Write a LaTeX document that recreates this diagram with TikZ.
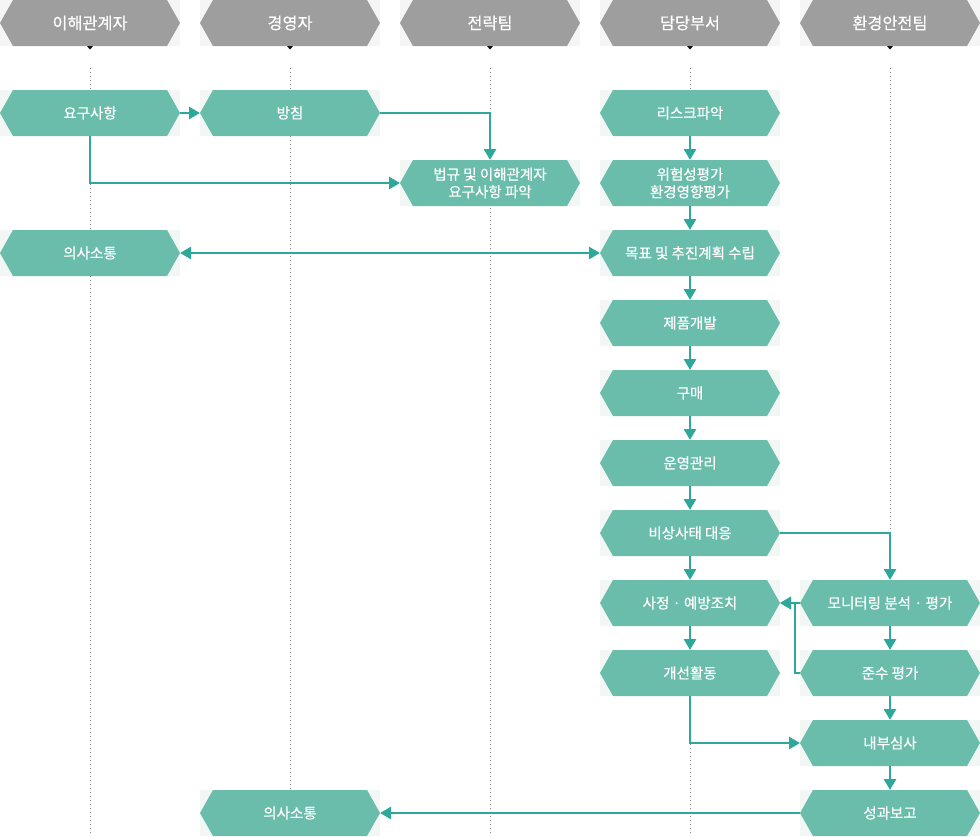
\documentclass[tikz,border=0pt]{standalone}
\usepackage{fontspec}
\setmainfont{Noto Sans CJK KR}[FakeBold=0.5]
\usetikzlibrary{arrows.meta}
\definecolor{boxteal}{HTML}{6BBDAB}
\definecolor{boxback}{HTML}{F2F7F6}
\definecolor{linkteal}{HTML}{2FA89C}
\definecolor{headgray}{HTML}{9E9E9E}
\definecolor{headback}{HTML}{F5F5F5}
\definecolor{lanegray}{HTML}{888888}
\tikzset{
  hexbase/.style={minimum width=180pt, minimum height=46pt, inner sep=0pt, outer sep=0pt,
    text=white, align=center, font=\fontsize{14.5}{17.5}\selectfont},
  hexfill/.style={path picture={
    \fill[#1] (path picture bounding box.west)
      -- ([xshift=13pt]path picture bounding box.north west)
      -- ([xshift=-13pt]path picture bounding box.north east)
      -- (path picture bounding box.east)
      -- ([xshift=-13pt]path picture bounding box.south east)
      -- ([xshift=13pt]path picture bounding box.south west) -- cycle;}},
  taskbox/.style={hexbase, fill=boxback, hexfill=boxteal},
  headbox/.style={hexbase, fill=headback, hexfill=headgray, font=\fontsize{16.3}{19}\selectfont},
  link/.style={draw=linkteal, line width=2.8pt, -{Triangle[length=11pt,width=12pt]}},
  linkboth/.style={draw=linkteal, line width=2.8pt, {Triangle[length=11pt,width=12pt]}-{Triangle[length=11pt,width=12pt]}},
  lane/.style={draw=lanegray, line width=0.8pt, dash pattern=on 1pt off 3pt},
}
\begin{document}
\begin{tikzpicture}[x=1pt,y=-1pt]
\useasboundingbox (0,0) rectangle (980,836);
% lanes
\foreach \lx in {90,290,490,690,890}{
  \draw[lane] (\lx,68) -- (\lx,836);
  \fill[black] (\lx-3,46) -- (\lx+3,46) -- (\lx,49.5) -- cycle;
}
% headers
\node[headbox] (h1) at (90,23) {이해관계자};
\node[headbox] (h2) at (290,23) {경영자};
\node[headbox] (h3) at (490,23) {전략팀};
\node[headbox] (h4) at (690,23) {담당부서};
\node[headbox] (h5) at (890,23) {환경안전팀};
% tasks
\node[taskbox] (req) at (90,113) {요구사항};
\node[taskbox] (pol) at (290,113) {방침};
\node[taskbox] (law) at (490,183) {법규 및 이해관계자\\요구사항 파악};
\node[taskbox] (risk) at (690,113) {리스크파악};
\node[taskbox] (eval) at (690,183) {위험성평가\\환경영향평가};
\node[taskbox] (comm1) at (90,253) {의사소통};
\node[taskbox] (goal) at (690,253) {목표 및 추진계획 수립};
\node[taskbox] (dev) at (690,323) {제품개발};
\node[taskbox] (buy) at (690,393) {구매};
\node[taskbox] (ops) at (690,463) {운영관리};
\node[taskbox] (emg) at (690,533) {비상사태 대응};
\node[taskbox] (act) at (690,603) {사정 · 예방조치};
\node[taskbox] (imp) at (690,673) {개선활동};
\node[taskbox] (mon) at (890,603) {모니터링 분석 · 평가};
\node[taskbox] (cmp) at (890,673) {준수 평가};
\node[taskbox] (aud) at (890,743) {내부심사};
\node[taskbox] (rep) at (890,813) {성과보고};
\node[taskbox] (comm2) at (290,813) {의사소통};
\coordinate (joinpt) at (795,673);
% connectors
\draw[link] (req.east) -- (pol.west);
\draw[link] (pol.east) -| (law.north);
\draw[link] (req.south) |- (law.west);
\draw[linkboth] (comm1.east) -- (goal.west);
\draw[link] (risk.south) -- (eval.north);
\draw[link] (eval.south) -- (goal.north);
\draw[link] (goal.south) -- (dev.north);
\draw[link] (dev.south) -- (buy.north);
\draw[link] (buy.south) -- (ops.north);
\draw[link] (ops.south) -- (emg.north);
\draw[link] (emg.south) -- (act.north);
\draw[link] (act.south) -- (imp.north);
\draw[link] (emg.east) -| (mon.north);
\draw[link] (mon.west) -- (act.east);
\draw[link] (cmp.west) -- (joinpt) |- (act.east);
\draw[link] (mon.south) -- (cmp.north);
\draw[link] (cmp.south) -- (aud.north);
\draw[link] (aud.south) -- (rep.north);
\draw[link] (imp.south) |- (aud.west);
\draw[link] (rep.west) -- (comm2.east);
\end{tikzpicture}
\end{document}
